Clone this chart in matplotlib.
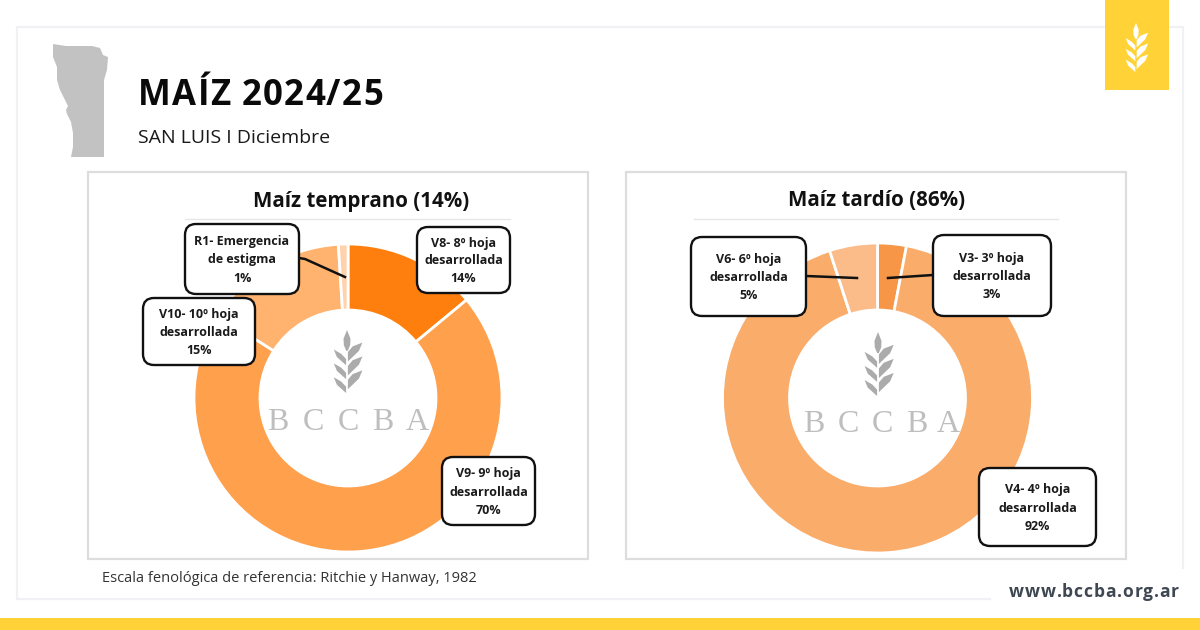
import matplotlib
matplotlib.use('Agg')
import matplotlib.pyplot as plt
from matplotlib.patches import FancyBboxPatch, Polygon, Rectangle

# data
early_stages = ['V8- 8º hoja\ndesarrollada', 'V9- 9º hoja\ndesarrollada', 'V10- 10º hoja\ndesarrollada', 'R1- Emergencia\nde estigma']
early_values = [14, 70, 15, 1]
late_stages = ['V3- 3º hoja\ndesarrollada', 'V4- 4º hoja\ndesarrollada', 'V6- 6º hoja\ndesarrollada']
late_values = [3, 92, 5]

early_colors = ['#FF7F0E', '#FFA04D', '#FFB36E', '#FFD2AC']
late_colors = ['#F79646', '#FAAC6B', '#FBBC8A']

early_boxes = [(417, 227, 93, 66), (442, 457, 93, 68), (143, 298, 112, 67), (185, 224, 114, 70)]
late_boxes = [(933, 235, 118, 81), (979, 468, 117, 78), (691, 237, 115, 79)]

YELLOW = '#FFD338'
FONT = 'Open Sans'

fig = plt.figure(figsize=(12, 6.3), dpi=100, facecolor='white')
ax = fig.add_axes([0, 0, 1, 1])


def donut(values, colors, center, radius, hole):
    ax.pie(values, colors=colors, center=center, radius=radius, startangle=-90,
           counterclock=True, frame=True,
           wedgeprops=dict(width=radius - hole, edgecolor='white', linewidth=2))


def callouts(stages, values, boxes):
    for stage, value, (x, y, w, h) in zip(stages, values, boxes):
        box = FancyBboxPatch((x + 10, y + 10), w - 20, h - 20, boxstyle='round,pad=10,rounding_size=11',
                             facecolor='white', edgecolor='#111111', linewidth=1.7, zorder=6)
        ax.add_patch(box)
        ax.text(x + w / 2, y + h / 2 + 1, f'{stage}\n{value}%', ha='center', va='center', fontsize=9,
                fontweight='bold', family=FONT, linespacing=1.5, color='#1A1A1A', zorder=7)


def wheat(cx, top, h, color, zorder=3):
    # leaves of the logo, in units of its height
    pts = [[(0, 0), (.055, .14), (.05, .24), (.012, .33), (-.012, .33), (-.05, .24), (-.055, .14)]]
    for dy in [0, .22, .44]:
        pts.append([(.014, .5 + dy), (.014, .35 + dy), (.09, .26 + dy), (.245, .2 + dy), (.19, .33 + dy)])
        pts.append([(-.014, .56 + dy), (-.014, .46 + dy), (-.09, .38 + dy), (-.21, .31 + dy), (-.16, .43 + dy)])
    for p in pts:
        ax.add_patch(Polygon([(cx + px * h, top + py * h) for px, py in p], closed=True,
                             facecolor=color, edgecolor='none', zorder=zorder))


def letters(xs, y):
    for xp, ch in zip(xs, 'BCCBA'):
        ax.text(xp, y, ch, ha='center', va='center', fontsize=23, family='Liberation Serif',
                color='#BEBEBE', zorder=3)


def spaced_text(x, y, s, spacing, **kw):
    # matplotlib has no letter spacing, so place the characters one by one
    r = fig.canvas.get_renderer()
    for i, ch in enumerate(s):
        probe = ax.text(0, 0, s[:i] + '|', **kw)
        pipe = ax.text(0, 0, '|', **kw)
        adv = probe.get_window_extent(r).width - pipe.get_window_extent(r).width
        probe.remove()
        pipe.remove()
        ax.text(x + adv + i * spacing, y, ch, ha='left', va='baseline', **kw)


donut(early_values, early_colors, (348, 398), 154, 88)
donut(late_values, late_colors, (877.5, 398), 155, 88)

ax.set_xlim(0, 1200)
ax.set_ylim(630, 0)
ax.axis('off')

# outer frame, broken at the bottom right
frame_color = '#F0F0F5'
ax.plot([990, 17, 17, 1183, 1183], [599, 599, 26.5, 26.5, 568], color=frame_color, lw=1.6, zorder=0)

# panels
for x0 in [88, 626]:
    ax.add_patch(Rectangle((x0, 172), 500, 387, facecolor='none', edgecolor='#DDDDDD', linewidth=1.6, zorder=0.5))
ax.plot([185, 510], [219, 219], color='#E6E6E6', lw=1, zorder=1)
ax.plot([694, 1058], [219, 219], color='#E6E6E6', lw=1, zorder=1)

# header
ax.add_patch(Rectangle((1105, 0), 64, 90, facecolor=YELLOW, edgecolor='none', zorder=2))
wheat(1136, 23, 49, 'white')
ax.add_patch(Rectangle((0, 618), 1200, 12, facecolor=YELLOW, edgecolor='none', zorder=2))

# province outline
province = [(53, 44), (66, 46), (80, 46), (92, 46), (100, 48), (103, 55), (108, 57), (107, 70), (104, 80),
            (104, 100), (104, 130), (104, 157), (71, 157), (73, 147), (73, 133), (71, 122), (67, 114),
            (66, 110), (68, 106), (64, 98), (60, 90), (57, 80), (57, 67), (53, 57)]
ax.add_patch(Polygon(province, closed=True, facecolor='#C2C2C2', edgecolor='none', zorder=2))

spaced_text(138, 105, 'MAÍZ 2024/25', 1.25, fontsize=25, fontweight='bold', family=FONT, color='#0A0A0A')
ax.text(138, 138, 'SAN LUIS I Diciembre', fontsize=14, family=FONT, color='#1A1A1A', va='center', ha='left')

ax.text(361.5, 201, 'Maíz temprano (14%)', fontsize=14.8, fontweight='bold', family=FONT, color='#111111', ha='center', va='center')
ax.text(877, 201, 'Maíz tardío (86%)', fontsize=14.8, fontweight='bold', family=FONT, color='#111111', ha='center', va='center')

# logos in the holes
wheat(347, 330, 63, '#ABABAB')
wheat(878, 332, 64, '#ABABAB')
letters([278, 313, 348, 383, 417], 423)
letters([814, 848, 882, 917, 948], 425)

# leader lines
ax.plot([299, 305, 345], [258, 259, 277], color='#111111', lw=1.8, zorder=5)
ax.plot([806, 857], [276, 278], color='#111111', lw=1.8, zorder=5)
ax.plot([933, 888], [275, 278], color='#111111', lw=1.8, zorder=5)

callouts(early_stages, early_values, early_boxes)
callouts(late_stages, late_values, late_boxes)

ax.text(102, 579, 'Escala fenológica de referencia: Ritchie y Hanway, 1982', fontsize=10.5, family=FONT,
        color='#333333', va='center', ha='left')
spaced_text(1009, 597, 'www.bccba.org.ar', 0.85, fontsize=12.6, fontweight='bold', family=FONT, color='#3F4752')

fig.savefig('out.png', dpi=100)
